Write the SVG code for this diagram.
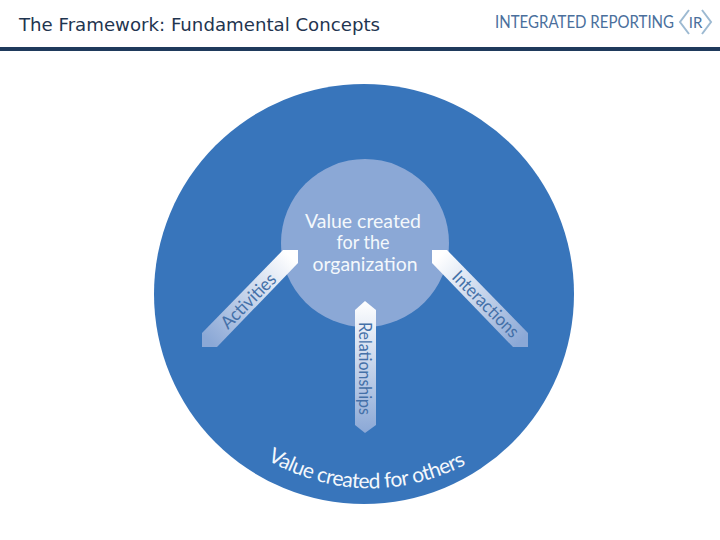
<svg xmlns="http://www.w3.org/2000/svg" width="720" height="540" viewBox="0 0 720 540">
<style>
.t{font-family:"Lato","Liberation Sans",sans-serif}
.w{fill:#f4f8fc;text-anchor:middle;font-size:19.5px}
.a{fill:#4470a8;font-size:18px}
</style>
<defs>
<linearGradient id="gl" gradientUnits="userSpaceOnUse" x1="292" y1="258" x2="208" y2="340"><stop offset="0" stop-color="#ffffff"/><stop offset="1" stop-color="#8ba8d6"/></linearGradient>
<linearGradient id="gr" gradientUnits="userSpaceOnUse" x1="438" y1="258" x2="522" y2="340"><stop offset="0" stop-color="#ffffff"/><stop offset="1" stop-color="#8ba8d6"/></linearGradient>
<linearGradient id="gc" gradientUnits="userSpaceOnUse" x1="365" y1="301" x2="365" y2="433"><stop offset="0" stop-color="#ffffff"/><stop offset="1" stop-color="#8ba8d6"/></linearGradient>
<path id="arc" d="M267 460 Q365 514 465 465"/>
</defs>
<rect width="720" height="540" fill="#ffffff"/>
<g id="header">
<text x="19" y="31" font-family="'DejaVu Sans',sans-serif" font-size="17" fill="#1f3550" textLength="361" lengthAdjust="spacingAndGlyphs">The Framework: Fundamental Concepts</text>
<rect x="0" y="47" width="720" height="4" fill="#1f3a5c"/>
</g>
<g id="logo">
<text class="t" transform="translate(495,28) scale(0.835,1)" font-size="18" fill="#4a6f9c">INTEGRATED REPORTING</text>
<path d="M689 10 L680 22 L689 34 M702 10 L711 22 L702 34" fill="none" stroke="#9dbad2" stroke-width="2"/>
<text class="t" x="695.500" y="28" font-size="15" fill="#4a6f9c" text-anchor="middle">IR</text>
</g>
<g id="outer">
<circle cx="364" cy="294" r="210" fill="#3875bb"/>
<text class="t" font-size="21" fill="#f4f8fc"><textPath href="#arc" textLength="208" lengthAdjust="spacing">Value created for others</textPath></text>
</g>
<g id="inner">
<circle cx="365" cy="243" r="84" fill="#8ba8d6"/>
<text class="t w" x="363" y="228" textLength="116" lengthAdjust="spacingAndGlyphs">Value created</text>
<text class="t w" x="363" y="249" textLength="53" lengthAdjust="spacingAndGlyphs">for the</text>
<text class="t w" x="365" y="271" textLength="105" lengthAdjust="spacingAndGlyphs">organization</text>
</g>
<g id="connectors">
<g id="activities">
<polygon points="283,250 298,250 298,263 217,347 202,347 202,333" fill="url(#gl)"/>
<text class="t a" transform="translate(228,330) rotate(-45)" textLength="70" lengthAdjust="spacingAndGlyphs">Activities</text>
</g>
<g id="interactions">
<polygon points="432,250 447,250 528,333 528,347 513,347 432,263" fill="url(#gr)"/>
<text class="t a" transform="translate(451,278) rotate(45)" textLength="86" lengthAdjust="spacingAndGlyphs">Interactions</text>
</g>
<g id="relationships">
<polygon points="365,301 376,310 376,425 365,433 355,425 355,310" fill="url(#gc)"/>
<text class="t a" transform="translate(359,322) rotate(90)" textLength="93" lengthAdjust="spacingAndGlyphs">Relationships</text>
</g>
</g>
</svg>
